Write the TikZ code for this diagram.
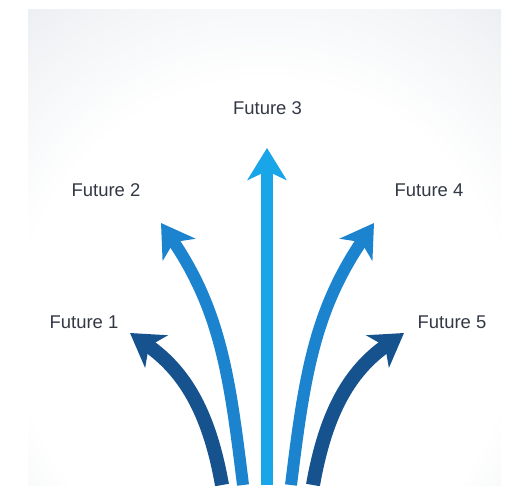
\documentclass[tikz,border=0pt]{standalone}
\usepackage{fontspec}
\setmainfont{Liberation Sans}
\usetikzlibrary{arrows.meta}
\definecolor{darkblue}{RGB}{22,82,142}
\definecolor{midblue}{RGB}{28,132,206}
\definecolor{lightblue}{RGB}{24,166,232}
\definecolor{labelgray}{RGB}{50,56,68}
\definecolor{vigmid}{RGB}{236,239,242}
\definecolor{vigedge}{RGB}{214,219,226}
\definecolor{vigcorner}{RGB}{196,203,212}
\pgfdeclareradialshading{vignette}{\pgfpoint{0bp}{-14bp}}{color(0bp)=(white); color(26bp)=(white); color(40bp)=(vigmid); color(50bp)=(vigedge); color(66bp)=(vigcorner)}
\tikzset{
  future/.style={font=\fontsize{10.5}{12}\selectfont, text=labelgray},
  branch/.style={line width=#1, -{Stealth[length=0.64cm, width=0.78cm, inset=0.18cm]}}
}

\begin{document}
\begin{tikzpicture}
  \useasboundingbox (0,0) rectangle (10.2,9.7);
  % Background panel
  \shade[shading=vignette] (0.56,0) rectangle (10.02,9.5);

  % Labels
  \node[future] (f1) at (1.68,3.26) {Future 1};
  \node[future] (f2) at (2.12,5.90) {Future 2};
  \node[future] (f3) at (5.35,7.54) {Future 3};
  \node[future] (f4) at (8.58,5.90) {Future 4};
  \node[future] (f5) at (9.04,3.26) {Future 5};

  % Arrow bases and tips
  \coordinate (base1) at (4.44,0);
  \coordinate (base2) at (4.86,0);
  \coordinate (base3) at (5.34,0);
  \coordinate (base4) at (5.82,0);
  \coordinate (base5) at (6.26,0);
  \coordinate (tip1) at (2.60,3.04);
  \coordinate (tip2) at (3.22,5.24);
  \coordinate (tip3) at (5.34,6.74);
  \coordinate (tip4) at (7.48,5.24);
  \coordinate (tip5) at (8.08,3.04);

  % Arrows
  \draw[branch=0.28cm, darkblue] (base1) to[out=100, in=-35] (tip1);
  \draw[branch=0.24cm, midblue] (base2) to[out=97, in=-56] (tip2);
  \draw[branch=0.24cm, lightblue] (base3) -- (tip3);
  \draw[branch=0.24cm, midblue] (base4) to[out=83, in=-124] (tip4);
  \draw[branch=0.28cm, darkblue] (base5) to[out=80, in=-145] (tip5);
\end{tikzpicture}
\end{document}
